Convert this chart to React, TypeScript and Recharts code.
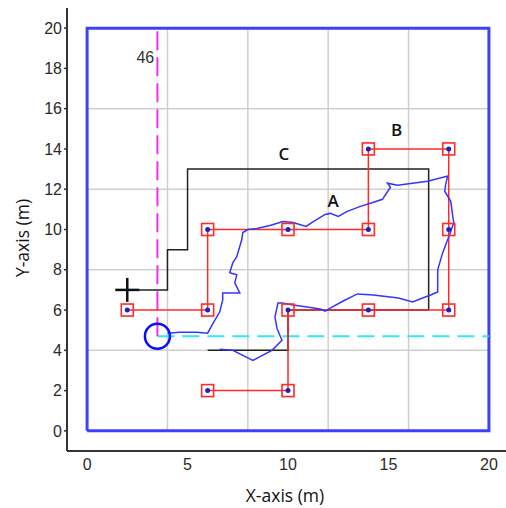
import { ComposedChart, Scatter, XAxis, YAxis, ReferenceLine, Label } from "recharts";

const xTicks = [0, 5, 10, 15, 20];
const yTicks = [0, 2, 4, 6, 8, 10, 12, 14, 16, 18, 20];
const gridValues = [4, 8, 12, 16];

const frame = [
  { x: 0, y: 0 }, { x: 20, y: 0 }, { x: 20, y: 20 }, { x: 0, y: 20 }, { x: 0, y: 0 },
];

// planned route B (red) and its waypoints
const routeB = [
  { x: 2, y: 6 }, { x: 6, y: 6 }, { x: 6, y: 10 }, { x: 14, y: 10 }, { x: 14, y: 14 },
  { x: 18, y: 14 }, { x: 18, y: 6 }, { x: 10, y: 6 }, { x: 10, y: 2 }, { x: 6, y: 2 },
];
const waypoints = [
  { x: 2, y: 6 }, { x: 6, y: 6 }, { x: 6, y: 10 }, { x: 10, y: 10 }, { x: 14, y: 10 },
  { x: 14, y: 14 }, { x: 18, y: 14 }, { x: 18, y: 10 }, { x: 18, y: 6 }, { x: 14, y: 6 },
  { x: 10, y: 6 }, { x: 10, y: 2 }, { x: 6, y: 2 },
];

// route C (black)
const routeC = [
  { x: 2, y: 7 }, { x: 4, y: 7 }, { x: 4, y: 9 }, { x: 5, y: 9 }, { x: 5, y: 13 },
  { x: 17, y: 13 }, { x: 17, y: 6 }, { x: 10, y: 6 }, { x: 10, y: 4 }, { x: 6, y: 4 },
];

// measured track A (blue)
const trackA = [
  { x: 4.0, y: 4.85 }, { x: 4.6, y: 4.9 }, { x: 5.45, y: 4.9 }, { x: 6.0, y: 4.85 },
  { x: 6.3, y: 5.4 }, { x: 6.6, y: 5.9 }, { x: 6.75, y: 6.5 }, { x: 6.75, y: 6.85 },
  { x: 7.35, y: 6.85 }, { x: 7.6, y: 6.85 }, { x: 7.35, y: 7.35 }, { x: 7.45, y: 7.75 },
  { x: 7.1, y: 7.85 }, { x: 7.25, y: 8.35 }, { x: 7.45, y: 8.65 }, { x: 7.7, y: 9.5 },
  { x: 7.75, y: 9.85 }, { x: 8.0, y: 10.0 }, { x: 8.45, y: 10.05 }, { x: 9.1, y: 10.2 },
  { x: 9.75, y: 10.4 }, { x: 10.25, y: 10.35 }, { x: 10.9, y: 10.15 }, { x: 11.2, y: 10.35 },
  { x: 11.85, y: 10.75 }, { x: 12.1, y: 10.8 }, { x: 12.5, y: 10.65 }, { x: 12.95, y: 10.9 },
  { x: 13.6, y: 11.15 }, { x: 14.1, y: 11.3 }, { x: 14.7, y: 11.5 }, { x: 15.1, y: 12.1 },
  { x: 14.95, y: 12.3 }, { x: 15.45, y: 12.2 }, { x: 16.95, y: 12.4 }, { x: 17.95, y: 12.65 },
  { x: 17.85, y: 12.25 }, { x: 17.8, y: 11.9 }, { x: 18.1, y: 11.4 }, { x: 18.2, y: 10.65 },
  { x: 18.25, y: 10.35 }, { x: 18.1, y: 9.9 }, { x: 17.7, y: 8.85 }, { x: 17.45, y: 8.0 },
  { x: 17.45, y: 6.9 }, { x: 17.1, y: 6.75 }, { x: 16.7, y: 6.6 }, { x: 16.2, y: 6.4 },
  { x: 15.5, y: 6.6 }, { x: 14.25, y: 6.75 }, { x: 13.45, y: 6.8 }, { x: 12.75, y: 6.45 },
  { x: 12.1, y: 6.1 }, { x: 11.85, y: 5.95 }, { x: 11.6, y: 6.05 }, { x: 10.95, y: 6.15 },
  { x: 10.25, y: 6.25 }, { x: 9.7, y: 6.35 }, { x: 9.5, y: 6.35 }, { x: 9.35, y: 5.65 },
  { x: 9.45, y: 5.1 }, { x: 9.7, y: 4.5 }, { x: 9.2, y: 4.0 }, { x: 8.25, y: 3.5 },
  { x: 7.95, y: 3.65 }, { x: 7.25, y: 4.0 }, { x: 6.6, y: 4.05 },
];

const startPoint = [{ x: 3.5, y: 4.7 }];
const crossPoint = [{ x: 2, y: 7 }];
const headingLine = [{ x: 3.5, y: 4.7 }, { x: 3.5, y: 19.85 }];
const offsetLine = [{ x: 3.5, y: 4.7 }, { x: 20, y: 4.7 }];

const textLabels = [
  { x: 12.25, y: 11.45, text: "A" },
  { x: 15.4, y: 14.95, text: "B" },
  { x: 9.8, y: 13.75, text: "C" },
  { x: 2.9, y: 18.55, text: "46" },
];

const numFont = "Liberation Sans, Arial, sans-serif";
const labelFont = "Open Sans, sans-serif";
const tickStyle = { fill: "#2a2a2a", fontSize: 16, fontFamily: numFont };

const Empty = () => <g />;

const Waypoint = (p: any) => (
  <g>
    <rect x={p.cx - 6} y={p.cy - 6} width={12} height={12} fill="none" stroke="#ff2a2a" strokeWidth={1.6} />
    <circle cx={p.cx} cy={p.cy} r={2.5} fill="#2020c0" />
  </g>
);

const StartCircle = (p: any) => (
  <circle cx={p.cx} cy={p.cy} r={12.5} fill="none" stroke="#0a0aff" strokeWidth={2.5} />
);

const Cross = (p: any) => (
  <g stroke="#111" strokeWidth={2.5}>
    <line x1={p.cx - 12} y1={p.cy} x2={p.cx + 12} y2={p.cy} />
    <line x1={p.cx} y1={p.cy - 12} x2={p.cx} y2={p.cy + 12} />
  </g>
);

const TextMark = (p: any) => {
  const isNum = p.payload.text === "46";
  return (
    <text
      x={p.cx}
      y={p.cy}
      textAnchor="middle"
      dominantBaseline="central"
      fontSize={isNum ? 16 : 17}
      fontWeight={isNum ? 400 : 600}
      fontFamily={isNum ? numFont : labelFont}
      fill={isNum ? "#333" : "#111"}
    >
      {p.payload.text}
    </text>
  );
};

export default function App() {
  return (
    <div style={{ position: "absolute", left: 0, top: 0, width: 506, height: 508, background: "#fff" }}>
      <ComposedChart width={506} height={508} margin={{ top: 8, right: 0, bottom: 0, left: 0 }}>
        <XAxis
          type="number"
          dataKey="x"
          domain={[-1, 20.85]}
          ticks={xTicks}
          allowDataOverflow
          height={57}
          tickLine={false}
          tickSize={6}
          tickMargin={2}
          tick={tickStyle}
          axisLine={{ stroke: "#333", strokeWidth: 2 }}
        >
          <Label
            content={() => (
              <text x={285} y={495} textAnchor="middle" dominantBaseline="central" fontSize={17.5} fontWeight={500} fontFamily={labelFont} fill="#111">
                X-axis (m)
              </text>
            )}
          />
        </XAxis>
        <YAxis
          type="number"
          dataKey="y"
          domain={[-1, 21]}
          ticks={yTicks}
          interval={0}
          allowDataOverflow
          width={67}
          tickSize={3}
          tickMargin={2}
          tick={tickStyle}
          tickLine={{ stroke: "#333", strokeWidth: 1.5 }}
          axisLine={{ stroke: "#333", strokeWidth: 2 }}
        >
          <Label
            content={() => (
              <text
                x={22}
                y={238}
                transform="rotate(-90 22 238)"
                textAnchor="middle"
                dominantBaseline="central"
                fontSize={17.5}
                fontWeight={500}
                fontFamily={labelFont}
                fill="#111"
              >
                Y-axis (m)
              </text>
            )}
          />
        </YAxis>

        {gridValues.map((v) => (
          <ReferenceLine key={"gx" + v} segment={[{ x: v, y: 0 }, { x: v, y: 20 }]} stroke="#cfcfcf" strokeWidth={1.5} />
        ))}
        {gridValues.map((v) => (
          <ReferenceLine key={"gy" + v} segment={[{ x: 0, y: v }, { x: 20, y: v }]} stroke="#cfcfcf" strokeWidth={1.5} />
        ))}

        <Scatter data={frame} line={{ stroke: "#3f3fff", strokeWidth: 3 }} shape={Empty} isAnimationActive={false} />
        <Scatter
          data={offsetLine}
          line={{ stroke: "#2ee8f5", strokeWidth: 2, strokeDasharray: "17 8" }}
          shape={Empty}
          isAnimationActive={false}
        />
        <Scatter
          data={headingLine}
          line={{ stroke: "#ee33ee", strokeWidth: 2, strokeDasharray: "19 7" }}
          shape={Empty}
          isAnimationActive={false}
        />
        <Scatter data={routeC} line={{ stroke: "#222", strokeWidth: 1.5 }} shape={Empty} isAnimationActive={false} />
        <Scatter data={routeB} line={{ stroke: "#ff2a2a", strokeWidth: 1.5 }} shape={Empty} isAnimationActive={false} />
        <Scatter data={trackA} line={{ stroke: "#3535ff", strokeWidth: 1.5 }} shape={Empty} isAnimationActive={false} />
        <Scatter data={waypoints} shape={Waypoint} isAnimationActive={false} />
        <Scatter data={startPoint} shape={StartCircle} isAnimationActive={false} />
        <Scatter data={crossPoint} shape={Cross} isAnimationActive={false} />
        <Scatter data={textLabels} shape={TextMark} isAnimationActive={false} />
      </ComposedChart>
    </div>
  );
}
